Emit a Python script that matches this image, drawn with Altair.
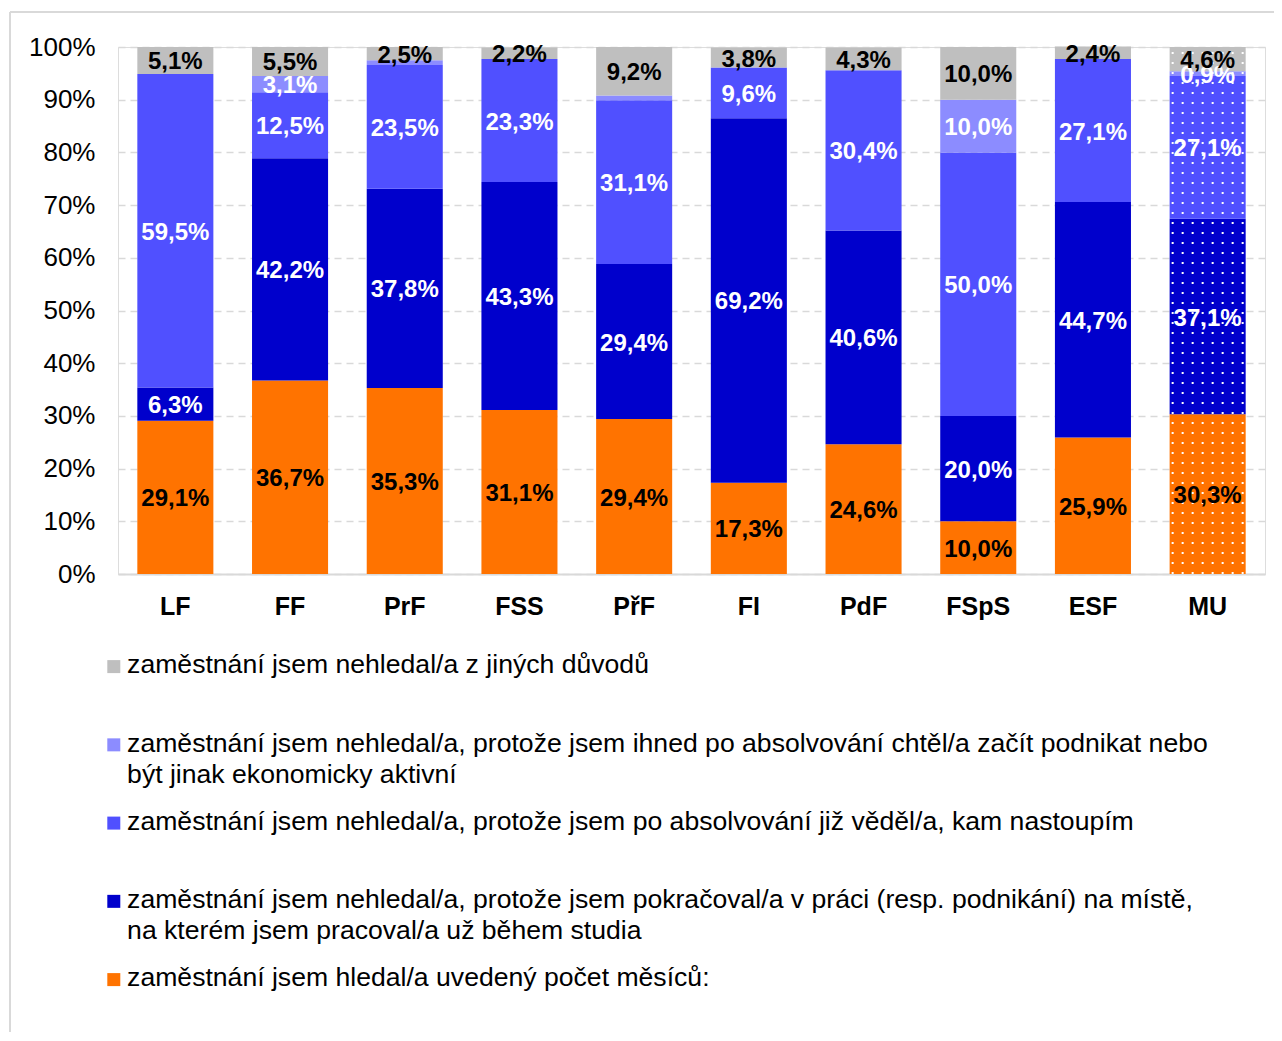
import altair as alt
import pandas as pd

# ---- data -------------------------------------------------------------
faculties = ["LF", "FF", "PrF", "FSS", "PřF", "FI", "PdF", "FSpS", "ESF", "MU"]

series_names = [
    "zaměstnání jsem hledal/a uvedený počet měsíců:",
    "zaměstnání jsem nehledal/a, protože jsem pokračoval/a v práci (resp. podnikání) na místě,|na kterém jsem pracoval/a už během studia",
    "zaměstnání jsem nehledal/a, protože jsem po absolvování již věděl/a, kam nastoupím",
    "zaměstnání jsem nehledal/a, protože jsem ihned po absolvování chtěl/a začít podnikat nebo|být jinak ekonomicky aktivní",
    "zaměstnání jsem nehledal/a z jiných důvodů",
]

hledal = [29.1, 36.7, 35.3, 31.1, 29.4, 17.3, 24.6, 10.0, 25.9, 30.3]
pokracoval = [6.3, 42.2, 37.8, 43.3, 29.4, 69.2, 40.6, 20.0, 44.7, 37.1]
vedel = [59.5, 12.5, 23.5, 23.3, 31.1, 9.6, 30.4, 50.0, 27.1, 27.1]
podnikat = [0.0, 3.1, 0.9, 0.0, 0.9, 0.0, 0.0, 10.0, 0.0, 0.9]
jine = [5.1, 5.5, 2.5, 2.2, 9.2, 3.8, 4.3, 10.0, 2.4, 4.6]

series_values = [hledal, pokracoval, vedel, podnikat, jine]
series_colors = ["#FF7300", "#0000CC", "#5050FF", "#8C8CFF", "#BFBFBF"]
label_colors = ["black", "white", "white", "white", "black"]

pattern_faculty = "MU"
dot_offsets = [-35, -25, -15, -5, 5, 15, 25, 35]

FONT = "Liberation Sans"

# ---- tables -----------------------------------------------------------
rows = []
for i, (name, vals) in enumerate(zip(series_names, series_values)):
    for fac, v in zip(faculties, vals):
        show = v >= 1 or (fac == pattern_faculty and v > 0)
        rows.append({
            "faculty": fac,
            "series": name,
            "order": i,
            "value": v,
            "label": (f"{v:.1f}".replace(".", ",") + "%") if show else "",
            "tcolor": label_colors[i],
        })
df = pd.DataFrame(rows)

pat_total = sum(vals[faculties.index(pattern_faculty)] for vals in series_values)
df_pat = pd.DataFrame({"faculty": [pattern_faculty], "lo": [0.0], "hi": [pat_total]})

legend_domain = list(reversed(series_names))
legend_range = list(reversed(series_colors))

# ---- chart ------------------------------------------------------------
x_enc = alt.X(
    "faculty:N",
    sort=faculties,
    scale=alt.Scale(paddingInner=0.337, paddingOuter=0.1685),
    axis=alt.Axis(
        title=None, labelAngle=0, labelFont=FONT, labelFontSize=25,
        labelFontWeight="bold", labelColor="black", labelPadding=20,
        ticks=False, domainColor="#D9D9D9", domainWidth=2, zindex=0,
        grid=False,
    ),
)
y_scale = alt.Scale(domain=[0, 100], nice=False, zero=True)

base = alt.Chart(df).transform_stack(
    stack="value", groupby=["faculty"], as_=["y0", "y1"],
    sort=[alt.SortField("order", order="ascending")],
)

bars = base.mark_bar().encode(
    x=x_enc,
    y=alt.Y(
        "y0:Q", scale=y_scale,
        axis=alt.Axis(
            title=None, values=list(range(0, 101, 10)),
            labelExpr="datum.value + '%'", labelFont=FONT, labelFontSize=26,
            labelColor="black", labelPadding=23, ticks=False, tickSize=0,
            domain=False, grid=True, gridDash=[7, 5], gridColor="#D9D9D9",
            gridWidth=1.5,
        ),
    ),
    y2="y1:Q",
    color=alt.Color(
        "series:N",
        scale=alt.Scale(domain=legend_domain, range=legend_range),
        legend=alt.Legend(
            title=None, orient="none", legendX=-17.5, legendY=592,
            direction="vertical", symbolType="M-1,1.2H1V3.2H-1Z",
            symbolSize=169, symbolStrokeWidth=0, labelFont=FONT,
            labelFontSize=26.6, labelColor="black", labelLimit=1300,
            labelBaseline="top", labelExpr="split(datum.label, '|')",
            rowPadding=7.25, gridAlign="all", padding=0, labelOffset=0,
        ),
    ),
)

pattern_layers = [
    alt.Chart(df_pat).mark_rule(
        xOffset=off, stroke="white", strokeWidth=2, strokeDash=[2, 8]
    ).encode(x=alt.X("faculty:N", sort=faculties), y=alt.Y("lo:Q", scale=y_scale), y2="hi:Q")
    for off in dot_offsets
]

text_base = base.transform_calculate(mid="(datum.y0 + datum.y1) / 2").transform_filter(
    "datum.label != ''"
)
text_black = text_base.transform_filter("datum.tcolor == 'black'").mark_text(
    font=FONT, fontSize=24, fontWeight="bold", color="black", baseline="middle", dy=2
).encode(x=alt.X("faculty:N", sort=faculties), y=alt.Y("mid:Q", scale=y_scale), text="label:N")
text_white = text_base.transform_filter("datum.tcolor == 'white'").mark_text(
    font=FONT, fontSize=24, fontWeight="bold", color="white", baseline="middle", dy=2
).encode(x=alt.X("faculty:N", sort=faculties), y=alt.Y("mid:Q", scale=y_scale), text="label:N")

# light frame of the chart area (top and left edges)
frame_df = pd.DataFrame({"k": [0]})
frame_top = alt.Chart(frame_df).mark_rule(color="#D9D9D9", strokeWidth=2).encode(
    x=alt.value(-108), x2=alt.value(1170), y=alt.value(-35)
)
frame_left = alt.Chart(frame_df).mark_rule(color="#D9D9D9", strokeWidth=2).encode(
    x=alt.value(-108), y=alt.value(-35), y2=alt.value(1000)
)

chart = alt.layer(
    frame_top, frame_left, bars, *pattern_layers, text_white, text_black
).properties(
    width=1147,
    height=527,
    autosize=alt.AutoSizeParams(type="none"),
    padding={"left": 110, "top": 39, "right": 9, "bottom": 458},
    background="white",
).configure_view(stroke=None).configure(
    font=FONT, style={"guide-label": {"lineHeight": 31}}
)

chart.save("out.html", embed_options={"renderer": "svg", "actions": False})
